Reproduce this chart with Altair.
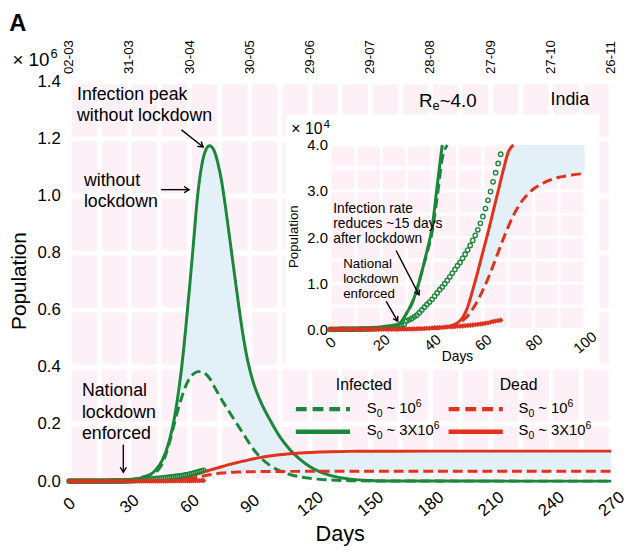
import math
import altair as alt
import pandas as pd

# ---------------- data ----------------
days = [0, 10, 20, 25, 28, 30, 32, 34, 36, 38, 40, 42, 44, 46, 48,
        50, 52, 54, 56, 58, 60, 62, 64, 66, 68, 70, 72, 74, 76, 78, 80, 82, 84, 86, 88, 90, 92,
        95, 100, 105, 110, 115, 120, 125, 130,
        140, 150, 160, 180, 210, 240, 270]
infected_s3 = [5, 40, 250, 700, 1700, 3500, 5500, 8500, 12500, 17000, 22000, 31000, 47000, 68000, 100000,
               145000, 205000, 290000, 395000, 530000, 680000, 840000, 1000000, 1105000, 1160000, 1176000,
               1162000, 1118000, 1050000, 955000, 850000, 745000, 640000, 540000, 455000, 390000, 340000,
               285000, 215000, 155000, 110000, 76000, 50000, 32000, 20000,
               7000, 2200, 700, 100, 10, 0, 0]
infected_s1 = [5, 40, 250, 700, 1700, 3500, 5500, 8500, 12500, 16500, 21000, 28500, 37000, 55000, 90000,
               135000, 190000, 245000, 292000, 332000, 360000, 376000, 384000, 384000, 376000, 360000,
               335000, 310000, 285000, 262000, 240000, 218000, 196000, 174000, 152000, 130000, 110000,
               85000, 55000, 36000, 23000, 15000, 9500, 6000, 3800,
               1400, 500, 150, 20, 0, 0, 0]
dead_s3 = [0, 0, 10, 20, 30, 40, 60, 80, 110, 150, 200, 270, 380, 550, 850,
           1400, 2500, 4800, 8500, 12500, 16800, 21000, 25500, 30000, 34500, 38500,
           42500, 46500, 50500, 54500, 58500, 62000, 65500, 69000, 72000, 75500, 78500,
           82500, 88000, 92500, 96000, 98500, 100500, 102000, 103000,
           104200, 104800, 105000, 105200, 105200, 105200, 105200]
dead_s1 = [0, 0, 10, 20, 30, 40, 60, 80, 110, 150, 200, 270, 380, 550, 850,
           1200, 1900, 2900, 4400, 6300, 8500, 11000, 13800, 16700, 19600, 22300,
           24700, 26700, 28300, 29500, 30500, 31200, 31800, 32300, 32700, 33000, 33200,
           33500, 33800, 34000, 34100, 34200, 34200, 34200, 34200,
           34200, 34200, 34200, 34200, 34200, 34200, 34200]

obs_days = list(range(68))
obs_infected = [3, 3, 5, 5, 25, 28, 28, 31, 36, 40, 55, 60, 65, 70, 90, 95, 105, 130, 150, 190,
                280, 330, 400, 470, 550, 630, 690, 800, 900, 1050, 1800, 2050, 2350, 2700, 3050,
                3600, 4200, 4800, 5400, 5900, 6500, 7200, 7900, 8600, 9200, 9900, 10600, 11400,
                12200, 13000, 13800, 14500, 15400, 16300, 17200, 18200, 19300, 20400, 21600,
                23000, 24500, 26200, 28000, 29900, 32000, 34000, 36000, 38000]
obs_dead = [0, 0, 0, 0, 0, 0, 0, 0, 0, 0, 1, 1, 2, 2, 2, 2, 3, 3, 4, 5, 7, 9, 10, 12, 14, 19, 22,
            24, 29, 32, 50, 56, 72, 83, 109, 114, 149, 166, 206, 242, 273, 325, 353, 393, 414,
            452, 488, 521, 559, 603, 645, 681, 718, 780, 825, 881, 939, 1008, 1079, 1154, 1223,
            1323, 1391, 1566, 1694, 1783, 1886, 1981]

date_days = [0, 30, 60, 90, 120, 150, 180, 210, 240, 270]
date_labels = ["02-03", "31-03", "30-04", "30-05", "29-06", "29-07", "28-08", "27-09", "27-10", "26-11"]
main_x_ticks = [0, 30, 60, 90, 120, 150, 180, 210, 240, 270]
main_y_ticks = [0, 200000, 400000, 600000, 800000, 1000000, 1200000, 1400000]
main_grid_x = list(range(0, 271, 15))
inset_x_ticks = [0, 20, 40, 60, 80, 100]
inset_y_ticks = [0, 10000, 20000, 30000, 40000]
inset_grid_x = list(range(0, 101, 10))
inset_grid_y = list(range(0, 40001, 5000))

# ---------------- style ----------------
GREEN = "#1B873A"
RED = "#E2311D"
PINK = "#FDF0F6"
BLUE = "#E4F0F8"
FONT = "Liberation Sans"
W, H = 550, 405

model = pd.DataFrame({"day": days, "i3": infected_s3, "i1": infected_s1, "d3": dead_s3, "d1": dead_s1})
obs = pd.DataFrame({"day": obs_days, "inf": obs_infected, "dead": obs_dead})
one = pd.DataFrame({"k": [0]})

# ---------------- main panel ----------------
xs = alt.Scale(domain=[0, 270], nice=False, zero=False)
ys = alt.Scale(domain=[0, 1400000], nice=False)
x_axis = alt.Axis(orient="bottom", values=main_x_ticks, labelAngle=-40, labelAlign="center",
                  labelBaseline="middle", labelPadding=23, labelFontSize=17, domain=False,
                  ticks=False, tickSize=0, grid=False, title=None, labelFlush=False, labelOverlap=False)
y_axis = alt.Axis(orient="left", values=main_y_ticks, labelExpr="format(datum.value / 1000000, '.1f')",
                  labelFontSize=17, labelPadding=9, domain=False, ticks=False, tickSize=0, grid=False,
                  title=None, labelFlush=False, labelOverlap=False)


def X(field):
    return alt.X(field, type="quantitative", scale=xs, axis=x_axis)


def Y(field):
    return alt.Y(field, type="quantitative", scale=ys, axis=y_axis)


grid_v = alt.Chart(pd.DataFrame({"gx": main_grid_x})).mark_rule(color="white", strokeWidth=5).encode(x=X("gx"))
grid_h = alt.Chart(pd.DataFrame({"gy": main_y_ticks})).mark_rule(color="white", strokeWidth=5).encode(y=Y("gy"))

area_g = alt.Chart(model[model.day >= 40]).mark_area(color=BLUE, opacity=1).encode(x=X("day"), y=Y("i3"), y2="i1")
area_r = alt.Chart(model[model.day >= 44]).mark_area(color=BLUE, opacity=1).encode(x=X("day"), y=Y("d3"), y2="d1")

line_g1 = alt.Chart(model).mark_line(color=GREEN, strokeWidth=3, strokeDash=[10, 5], interpolate="monotone").encode(x=X("day"), y=Y("i1"))
line_g3 = alt.Chart(model).mark_line(color=GREEN, strokeWidth=3, interpolate="monotone").encode(x=X("day"), y=Y("i3"))
line_r1 = alt.Chart(model).mark_line(color=RED, strokeWidth=3, strokeDash=[10, 5], interpolate="monotone").encode(x=X("day"), y=Y("d1"))
line_r3 = alt.Chart(model).mark_line(color=RED, strokeWidth=3, interpolate="monotone").encode(x=X("day"), y=Y("d3"))

pts_g = alt.Chart(obs).mark_point(shape="circle", filled=False, color=GREEN, size=20, strokeWidth=1.4, opacity=1).encode(x=X("day"), y=Y("inf"))
pts_r = alt.Chart(obs).mark_point(shape="diamond", filled=True, color=RED, size=30, opacity=1).encode(x=X("day"), y=Y("dead"))

top_labels = alt.Chart(pd.DataFrame({"d": date_days, "lab": date_labels})).mark_text(
    angle=270, align="left", baseline="middle", fontSize=13.5, font=FONT, color="black"
).encode(x=X("d"), y=alt.value(-8), text="lab:N")

main = alt.layer(grid_v, grid_h, area_g, area_r, line_g1, line_g3, line_r1, line_r3, pts_g, pts_r, top_labels)

# ---------------- inset panel ----------------
xs_in = alt.Scale(domain=[0, 100], range=[265, 523], nice=False, zero=False)
ys_in = alt.Scale(domain=[0, 40000], range=[251, 64], nice=False, clamp=True)
x_axis_in = alt.Axis(orient="bottom", offset=-154, values=inset_x_ticks, labelAngle=-40, labelAlign="center",
                     labelBaseline="middle", labelPadding=13, labelFontSize=15, domain=False, ticks=False,
                     tickSize=0, grid=False, title=None, labelFlush=False, labelOverlap=False, zindex=2)
y_axis_in = alt.Axis(orient="left", offset=-265, values=inset_y_ticks,
                     labelExpr="format(datum.value / 10000, '.1f')", labelFontSize=15, labelPadding=3,
                     domain=False, ticks=False, tickSize=0, grid=False, title=None, labelFlush=False,
                     labelOverlap=False, zindex=2)


def XI(field):
    return alt.X(field, type="quantitative", scale=xs_in, axis=x_axis_in)


def YI(field):
    return alt.Y(field, type="quantitative", scale=ys_in, axis=y_axis_in)


def until_exceed(col, limit=40000, maxday=100):
    rows = []
    for d, v in zip(days, col):
        if d > maxday:
            break
        rows.append({"day": d, "v": v})
        if v > limit:
            break
    return pd.DataFrame(rows)


box = alt.Chart(one).mark_rect(color="white").encode(
    x=alt.value(220), x2=alt.value(538), y=alt.value(33), y2=alt.value(289))
in_bg = alt.Chart(pd.DataFrame({"x0": [0], "x1": [100], "y0": [0], "y1": [40000]})).mark_rect(color=PINK).encode(
    x=XI("x0"), x2="x1", y=YI("y0"), y2="y1")
in_gv = alt.Chart(pd.DataFrame({"gx": inset_grid_x, "y0": 0, "y1": 40000})).mark_rule(color="white", strokeWidth=3).encode(
    x=XI("gx"), y=YI("y0"), y2="y1")
in_gh = alt.Chart(pd.DataFrame({"gy": inset_grid_y, "x0": 0, "x1": 100})).mark_rule(color="white", strokeWidth=3).encode(
    y=YI("gy"), x=XI("x0"), x2="x1")
in_area = alt.Chart(model[(model.day >= 44) & (model.day <= 100)]).mark_area(color=BLUE, opacity=1).encode(
    x=XI("day"), y=YI("d3"), y2="d1")
in_g3 = alt.Chart(until_exceed(infected_s3)).mark_line(color=GREEN, strokeWidth=3, interpolate="monotone").encode(x=XI("day"), y=YI("v"))
in_g1 = alt.Chart(until_exceed(infected_s1)).mark_line(color=GREEN, strokeWidth=3, strokeDash=[10, 5], interpolate="monotone").encode(x=XI("day"), y=YI("v"))
in_r3 = alt.Chart(until_exceed(dead_s3)).mark_line(color=RED, strokeWidth=3, interpolate="monotone").encode(x=XI("day"), y=YI("v"))
in_r1 = alt.Chart(until_exceed(dead_s1)).mark_line(color=RED, strokeWidth=3, strokeDash=[10, 5], interpolate="monotone").encode(x=XI("day"), y=YI("v"))
in_pg = alt.Chart(obs).mark_point(shape="circle", filled=False, color=GREEN, size=20, strokeWidth=1.4, opacity=1).encode(x=XI("day"), y=YI("inf"))
in_pr = alt.Chart(obs).mark_point(shape="diamond", filled=True, color=RED, size=30, opacity=1).encode(x=XI("day"), y=YI("dead"))

inset = alt.layer(box, in_bg, in_gv, in_gh, in_area, in_r1, in_r3, in_g1, in_g3, in_pg, in_pr)


# ---------------- annotations (pixel layout) ----------------
def text(lines, x, y, size, align="left", angle=None, weight="normal", lh=None, baseline="middle"):
    props = dict(text=lines, align=align, baseline=baseline, fontSize=size, font=FONT,
                 color="black", fontWeight=weight)
    if angle is not None:
        props["angle"] = angle
    if lh is not None:
        props["lineHeight"] = lh
    return alt.Chart(one).mark_text(**props).encode(x=alt.value(x), y=alt.value(y))


# Arial/Liberation Sans advance widths (em) for composing sub/superscripts
ADV = {"S": 0.667, "R": 0.722, "X": 0.667, "e": 0.556, " ": 0.278, "~": 0.584, ".": 0.278}


def adv(s, size):
    return sum(ADV.get(c, 0.556) for c in s) * size


def rich(parts, x, y):
    """parts: list of (string, fontSize, baseline shift); y is the alphabetic baseline."""
    out = []
    cx = x
    for s, size, dy in parts:
        lead = len(s) - len(s.lstrip(" "))
        cx += lead * ADV[" "] * size
        body = s.strip(" ")
        out.append(text(body, cx, y + dy, size, align="left", baseline="alphabetic"))
        cx += adv(s.lstrip(" "), size)
    return out


def arrow(x1, y1, x2, y2, size=40, width=1.4):
    ang = math.degrees(math.atan2(x2 - x1, -(y2 - y1))) % 360
    line = alt.Chart(one).mark_rule(color="black", strokeWidth=width).encode(
        x=alt.value(x1), y=alt.value(y1), x2=alt.value(x2), y2=alt.value(y2))
    head = alt.Chart(one).mark_point(shape="M-1,1.6L0,0L1,1.6", filled=False, color="black",
                                     strokeWidth=width, size=size, angle=ang, opacity=1).encode(
        x=alt.value(x2), y=alt.value(y2))
    return [line, head]


def leg_line(x1, x2, y, color, dash=None):
    props = dict(color=color, strokeWidth=4.5)
    if dash:
        props["strokeDash"] = dash
    return alt.Chart(one).mark_rule(**props).encode(x=alt.value(x1), x2=alt.value(x2), y=alt.value(y))


def s0(label_mid, x, y):
    return rich([("S", 15, 0), ("0", 10.5, 4), (label_mid, 15, 0), ("6", 10.5, -6)], x, y)


annos = [
    text("A", -52, -59, 24, align="center", weight="bold"),
    text("× 10", -20, -16, 19, align="right", baseline="alphabetic"),
    text("6", -19, -24, 13, align="left", baseline="alphabetic"),
    text("Population", -50, 202, 21, align="center", angle=270),
    text("Days", 275, 459, 22, align="center"),
    text(["Infection peak", "without lockdown"], 8, 13.5, 18, lh=21),
    text(["without", "lockdown"], 15, 100.5, 18, lh=21),
    text(["National", "lockdown", "enforced"], 13, 313.5, 18, lh=22),
    text("India", 508, 18, 18, align="center"),
    # inset texts
    text("× 10", 257, 53, 16, align="right", baseline="alphabetic"),
    text("4", 258, 47, 12, align="left", baseline="alphabetic"),
    text("Population", 228, 157, 13.5, align="center", angle=270),
    text("Days", 394, 279, 14, align="center"),
    text(["Infection rate", "reduces ~15 days", "after lockdown"], 268, 129.5, 14, lh=15),
    text(["National", "lockdown", "enforced"], 278, 185, 13.5, lh=15),
    # legend
    text("Infected", 299, 308, 16, align="center"),
    text("Dead", 456, 308, 16, align="center"),
    leg_line(230, 285, 332, GREEN, [11, 6]),
    leg_line(230, 285, 355, GREEN),
    leg_line(385, 440, 332, RED, [11, 6]),
    leg_line(385, 440, 355, RED),
]
annos += rich([("R", 19, 0), ("e", 13, 4), ("~4.0", 19, 0)], 355, 25)
annos += s0(" ~ 10", 302, 336)
annos += s0(" ~ 3X10", 302, 358)
annos += s0(" ~ 10", 456, 336)
annos += s0(" ~ 3X10", 456, 358)
annos += arrow(114, 48.7, 136, 66)
annos += arrow(93.3, 109.3, 121.7, 109.3)
annos += arrow(55, 368, 55, 396)
annos += arrow(331.7, 171, 355, 216, size=32)
annos += arrow(321.7, 222.7, 333.3, 242.7, size=32)

anno_layer = alt.layer(*annos)

chart = alt.layer(main, inset, anno_layer).resolve_scale(x="independent", y="independent").properties(
    width=W, height=H,
    autosize=alt.AutoSizeParams(type="none"),
    padding={"left": 62, "top": 71, "right": 16, "bottom": 72},
    background="white",
).configure_view(stroke=None, fill=PINK).configure_axis(
    labelFont=FONT, labelColor="black"
).configure_text(font=FONT)

chart.save("out.html", embed_options={"renderer": "svg", "actions": False})
